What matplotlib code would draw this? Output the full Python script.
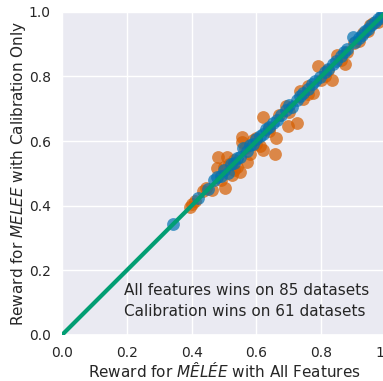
import matplotlib
matplotlib.use("Agg")
import matplotlib.pyplot as plt
import seaborn as sns
import numpy as np

sns.set_theme(style="darkgrid")

# calibration-only winners (off diagonal, orange)
orange_x = [0.395, 0.400, 0.410, 0.435, 0.445, 0.463, 0.478, 0.481, 0.490, 0.503,
            0.509, 0.515, 0.525, 0.530, 0.540, 0.549, 0.556, 0.556, 0.571, 0.580,
            0.590, 0.600, 0.610, 0.620, 0.620, 0.640, 0.657, 0.660, 0.670, 0.690,
            0.698, 0.725, 0.735, 0.745, 0.760, 0.775, 0.790, 0.800, 0.820, 0.833,
            0.849, 0.860, 0.873, 0.880, 0.900, 0.915, 0.930, 0.945, 0.960, 0.975,
            0.990, 0.500, 0.530, 0.565, 0.600, 0.640, 0.700, 0.760, 0.810, 0.950,
            0.985]
orange_y = [0.396, 0.405, 0.415, 0.446, 0.455, 0.449, 0.517, 0.551, 0.480, 0.455,
            0.551, 0.530, 0.495, 0.540, 0.520, 0.505, 0.613, 0.598, 0.536, 0.560,
            0.604, 0.590, 0.585, 0.675, 0.573, 0.640, 0.560, 0.610, 0.680, 0.710,
            0.647, 0.657, 0.755, 0.730, 0.770, 0.749, 0.833, 0.790, 0.820, 0.789,
            0.867, 0.850, 0.839, 0.875, 0.905, 0.910, 0.935, 0.940, 0.965, 0.970,
            1.000, 0.520, 0.510, 0.580, 0.610, 0.630, 0.690, 0.745, 0.800, 0.960,
            0.980]

# all-features winners (close to diagonal, blue)
blue_x = [0.343, 0.420, 0.450, 0.470, 0.478, 0.490, 0.500, 0.512, 0.520, 0.530,
          0.540, 0.550, 0.559, 0.570, 0.580, 0.590, 0.600, 0.610, 0.620, 0.630,
          0.640, 0.650, 0.664, 0.675, 0.690, 0.700, 0.710, 0.725, 0.735, 0.745,
          0.760, 0.770, 0.780, 0.795, 0.810, 0.820, 0.835, 0.845, 0.860, 0.870,
          0.880, 0.898, 0.905, 0.915, 0.925, 0.935, 0.945, 0.955, 0.965, 0.975,
          0.985, 0.995]
blue_y = [0.344, 0.425, 0.452, 0.478, 0.489, 0.493, 0.510, 0.500, 0.528, 0.532,
          0.548, 0.552, 0.579, 0.570, 0.588, 0.592, 0.606, 0.615, 0.622, 0.636,
          0.642, 0.656, 0.666, 0.680, 0.695, 0.712, 0.705, 0.728, 0.738, 0.750,
          0.762, 0.778, 0.785, 0.798, 0.815, 0.822, 0.840, 0.848, 0.862, 0.875,
          0.884, 0.923, 0.908, 0.918, 0.928, 0.940, 0.948, 0.958, 0.968, 0.978,
          0.988, 0.998]

cb = sns.color_palette("colorblind")

fig = plt.figure(figsize=(3.83, 3.81), dpi=100)
ax = fig.add_axes([0.162, 0.121, 0.846, 0.848])
ax.scatter(orange_x, orange_y, s=85, color=cb[3], alpha=0.7, linewidths=0, zorder=2)
ax.scatter(blue_x, blue_y, s=85, color=cb[0], alpha=0.7, linewidths=0, zorder=3)
ax.plot([0, 1], [0, 1], color=cb[2], linewidth=3, zorder=4)
ax.set_xlim(0, 1)
ax.set_ylim(0, 1)
ax.set_xticks(np.arange(0, 1.01, 0.2))
ax.set_yticks(np.arange(0, 1.01, 0.2))
ax.tick_params(labelsize=10, pad=2)
ax.set_xlabel(r"Reward for $\it{MÊLÉE}$ with All Features", fontsize=11, labelpad=1)
ax.set_ylabel(r"Reward for $\it{MELEE}$ with Calibration Only", fontsize=11, labelpad=1)
ax.text(0.191, 0.05, "All features wins on 85 datasets\nCalibration wins on 61 datasets",
        transform=ax.transAxes, ha="left", va="bottom", fontsize=11,
        linespacing=1.45, color="#262626", zorder=5)
fig.savefig("out.png", dpi=100)
